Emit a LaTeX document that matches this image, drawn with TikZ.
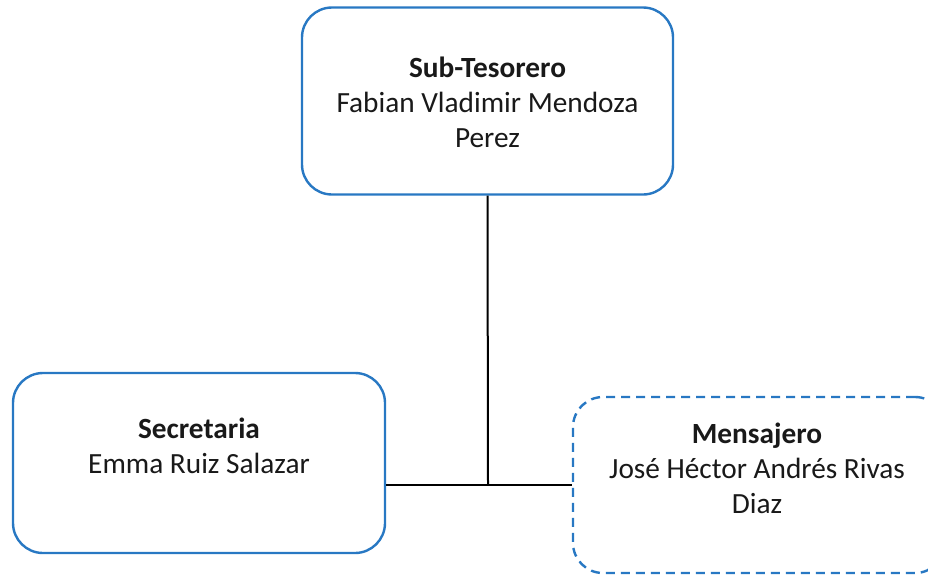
\documentclass[tikz,border=0pt]{standalone}
\usepackage{fontspec}
\setmainfont{Carlito}
\definecolor{boxblue}{RGB}{40,120,195}
\begin{document}
\begin{tikzpicture}[x=1pt,y=-1pt,
  rolebox/.style={draw=boxblue, line width=2.4pt, rounded corners=30pt,
    fill=white, inner sep=0pt},
  roletext/.style={align=center, inner sep=0pt, text=black!90,
    font=\fontsize{29.3}{35}\selectfont},
  link/.style={draw=black, line width=2pt}]
  \useasboundingbox (0,0) rectangle (928,574);
  \clip (0,0) rectangle (928,574);

  % the three positions
  \node[rolebox, minimum width=371pt, minimum height=187pt] (sub) at (487.5,101) {};
  \node[rolebox, minimum width=372pt, minimum height=180pt] (sec) at (199,463) {};
  \node[rolebox, dash pattern=on 9pt off 6pt, minimum width=372pt, minimum height=176pt] (men) at (759,485) {};

  % names
  \node[roletext] (subtxt) at (487.5,102) {\textbf{Sub-Tesorero}\\Fabian Vladimir Mendoza\\Perez};
  \node[roletext] (sectxt) at (199,445.5) {\textbf{Secretaria}\\Emma Ruiz Salazar};
  \node[roletext] (mentxt) at (757,468) {\textbf{Mensajero}\\José Héctor Andrés Rivas\\Diaz};

  % reporting lines
  \coordinate (junction) at (488,485);
  \draw[link] (sub.south) -- (junction);
  \draw[link] (sec.east |- junction) -- (men.west |- junction);
\end{tikzpicture}
\end{document}
